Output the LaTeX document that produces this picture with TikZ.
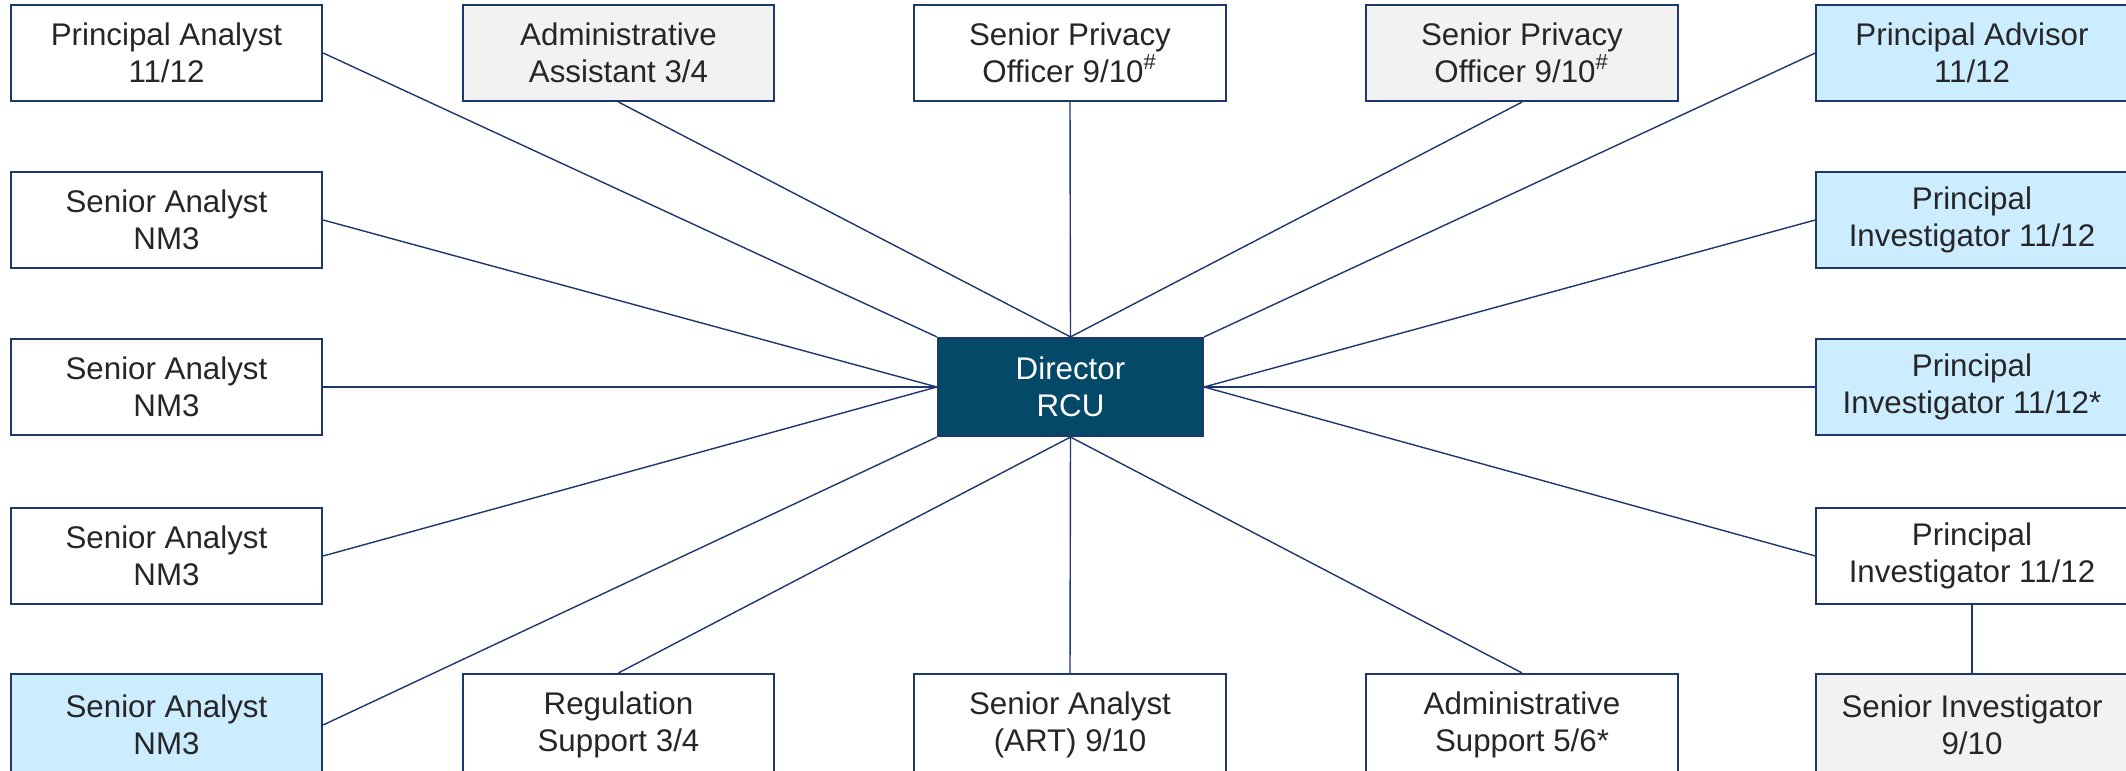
\documentclass[tikz,border=0pt]{standalone}
\usepackage{fontspec}
\setmainfont{Liberation Sans}
\usepackage{tikz}
\usetikzlibrary{positioning}

\definecolor{edge}{RGB}{30,55,108}
\definecolor{dir}{RGB}{4,74,104}
\definecolor{sky}{RGB}{204,236,255}
\definecolor{shade}{RGB}{242,242,242}
\definecolor{ink}{RGB}{38,38,38}

\begin{document}
\begin{tikzpicture}[x=0.01cm,y=-0.01cm,
  post/.style={draw=edge,line width=0.6pt,fill=white,text=ink,align=center,
    minimum width=3.11cm,minimum height=0.96cm,inner sep=0pt,
    font=\fontsize{8.9}{10.6}\selectfont},
  shared/.style={post,fill=shade},
  new/.style={post,fill=sky},
  cut/.style={minimum height=1.02cm},
  link/.style={draw=edge,line width=0.4pt}]
  \useasboundingbox (0,0) rectangle (2126,771);
  \clip (0,0) rectangle (2126,771);
  % the director in the middle
  \node[post,fill=dir,text=white,minimum width=2.65cm,minimum height=0.98cm]
    (dir) at (1070.5,387) {Director\\RCU};
  % top row
  \node[post]   (pa)  at (166.5,53) {Principal Analyst\\11/12};
  \node[shared] (aa)  at (618.5,53) {Administrative\\Assistant 3/4};
  \node[post]   (spo) at (1070,53)  {Senior Privacy\\Officer 9/10\textsuperscript{\#}};
  \node[shared] (spt) at (1522,53)  {Senior Privacy\\Officer 9/10\textsuperscript{\#}};
  \node[new]    (adv) at (1972,53)  {Principal Advisor\\11/12};
  % left column
  \node[post] (sa1) at (166.5,220) {Senior Analyst\\NM3};
  \node[post] (sa2) at (166.5,387) {Senior Analyst\\NM3};
  \node[post] (sa3) at (166.5,556) {Senior Analyst\\NM3};
  % right column
  \node[new]  (pi1) at (1972,220) {Principal\\Investigator 11/12};
  \node[new]  (pi2) at (1972,387) {Principal\\Investigator 11/12*};
  \node[post] (pi3) at (1972,556) {Principal\\Investigator 11/12};
  % bottom row, cut off at the page edge
  \node[new,cut]    (sa4) at (166.5,725) {Senior Analyst\\NM3};
  \node[post,cut]   (rs)  at (618.5,725) {Regulation\\Support 3/4};
  \node[post,cut]   (art) at (1070,725)  {Senior Analyst\\(ART) 9/10};
  \node[post,cut]   (as)  at (1522,725)  {Administrative\\Support 5/6*};
  \node[shared,cut] (si)  at (1972,725)  {Senior Investigator\\9/10};
  % connectors to the director
  \draw[link] (pa.east) -- (dir.north west);
  \foreach \n in {aa,spo,spt}
    \draw[link] (\n.south) -- (dir.north);
  \draw[link] (adv.west) -- (dir.north east);
  \foreach \n in {sa1,sa2,sa3}
    \draw[link] (\n.east) -- (dir.west);
  \foreach \n in {pi1,pi2,pi3}
    \draw[link] (\n.west) -- (dir.east);
  \draw[link] (sa4.east) -- (dir.south west);
  \foreach \n in {rs,art,as}
    \draw[link] (\n.north) -- (dir.south);
  \draw[link] (pi3.south) -- (si.north);
\end{tikzpicture}
\end{document}
